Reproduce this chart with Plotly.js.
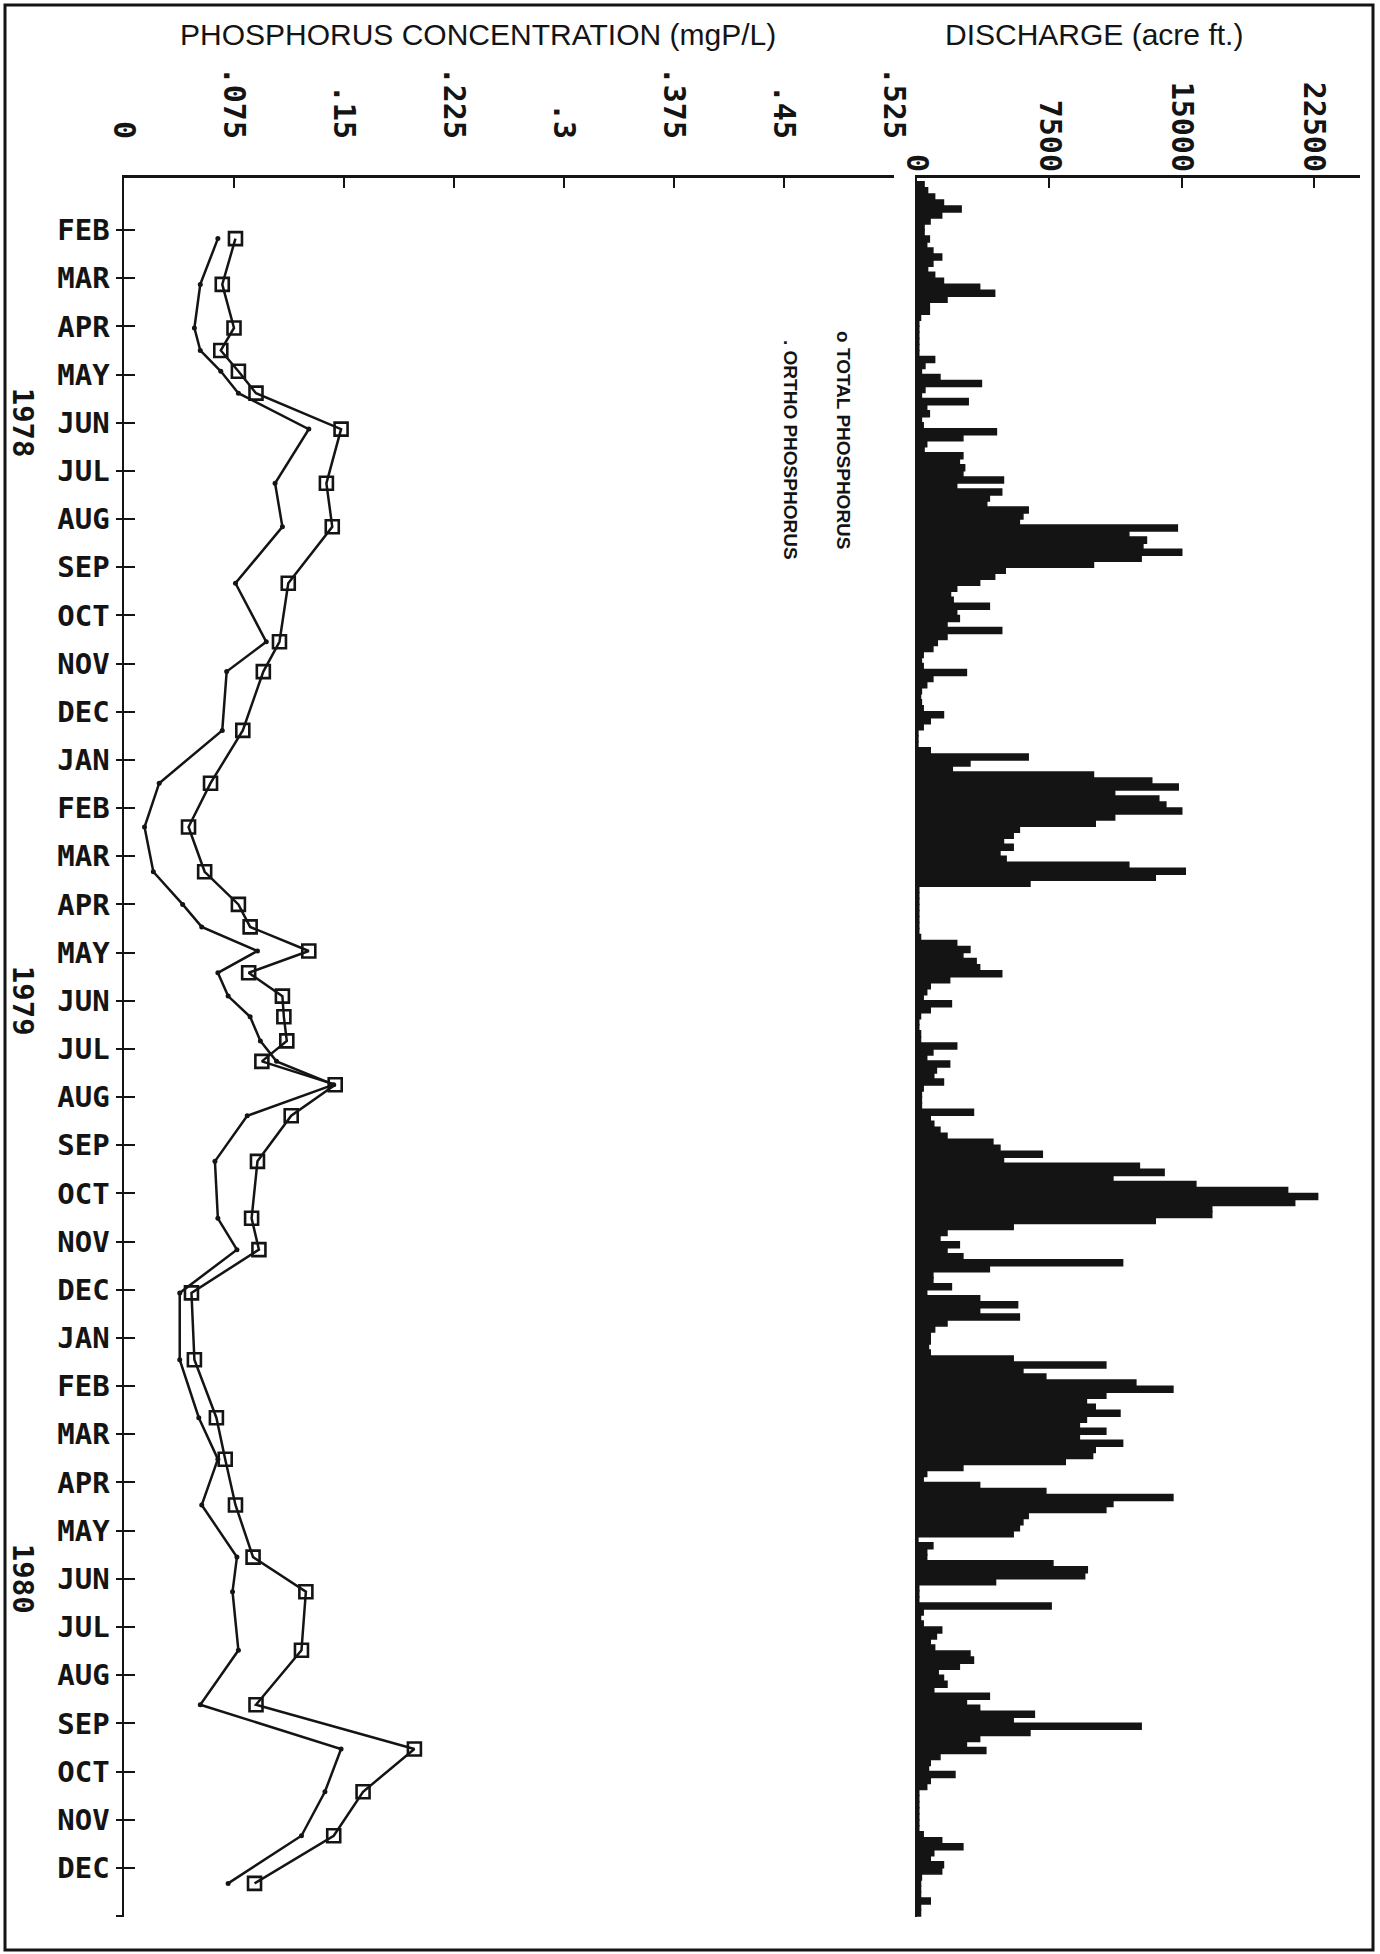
<!DOCTYPE html>
<html>
<head>
<meta charset="utf-8">
<script src="https://cdn.plot.ly/plotly-3.0.1.min.js"></script>
<style>
html,body{margin:0;padding:0;background:#ffffff;}
#chart{width:1380px;height:1954px;}
</style>
</head>
<body>
<div id="chart"></div>
<script>
// ---------- DATA ----------
// Water-quality sampling dates
const sampleDates = [
  "1978-02-06","1978-03-05","1978-04-02","1978-04-16","1978-04-29","1978-05-13","1978-06-05",
  "1978-07-09","1978-08-06","1978-09-11","1978-10-18","1978-11-06","1978-12-13",
  "1979-01-16","1979-02-12","1979-03-11","1979-04-01","1979-04-15","1979-04-30","1979-05-14",
  "1979-05-29","1979-06-11","1979-06-26","1979-07-09","1979-07-24","1979-08-13","1979-09-11",
  "1979-10-17","1979-11-06","1979-12-03",
  "1980-01-15","1980-02-20","1980-03-17","1980-04-15","1980-05-18","1980-06-09","1980-07-16",
  "1980-08-20","1980-09-17","1980-10-14","1980-11-11","1980-12-11"
];
// Total phosphorus (mgP/L)
const totalPhosphorus = [
  0.076,0.067,0.075,0.066,0.078,0.090,0.148,0.138,0.142,0.112,0.106,0.095,0.081,
  0.059,0.044,0.055,0.078,0.086,0.126,0.085,0.108,0.109,0.111,0.094,0.144,0.114,0.091,0.087,0.092,0.046,
  0.048,0.063,0.069,0.076,0.088,0.124,0.121,0.090,0.198,0.163,0.143,0.089
];
// Ortho phosphorus (mgP/L)
const orthoPhosphorus = [
  0.064,0.052,0.048,0.052,0.066,0.078,0.126,0.103,0.108,0.076,0.097,0.070,0.067,
  0.024,0.014,0.020,0.040,0.053,0.091,0.064,0.071,0.086,0.093,0.104,0.143,0.084,0.062,0.064,0.077,0.038,
  0.038,0.051,0.064,0.053,0.077,0.074,0.078,0.052,0.148,0.137,0.121,0.071
];
// Discharge (acre ft.), eight periods per month, January through December of each year
const discharge1978 = [
  400,600,1000,1500,2500,1400,740,400, 400,700,550,900,1400,900,600,1000,
  1500,3550,4400,1700,700,700,200,100, 100,100,100,100,100,1000,450,250,
  1300,3650,450,250,2900,550,700,250, 350,4500,2600,550,400,2600,2400,2700,
  2600,4900,2250,4800,4100,3950,6300,6000, 5800,14750,12000,13000,12800,15000,12700,10000,
  5000,4400,3550,2250,1900,2050,4100,2250, 2400,1700,4800,1700,1150,900,350,250,
  350,2800,900,550,250,200,250,350, 1500,750,350,50,50,50,750,6300
];
const discharge1979 = [
  3000,2000,10000,13300,14800,11200,13700,14100, 15000,11200,10100,5800,5450,4900,5450,4700,
  5050,12000,15200,13500,6400,100,100,100, 100,100,100,100,100,200,2250,3000,
  2600,3350,3550,4800,1850,750,550,350, 1950,750,200,100,100,200,200,2250,
  900,550,1850,1100,950,1500,350,250, 250,250,3200,750,950,1300,1700,4300,
  4700,7100,4900,12600,14000,11100,15800,21000, 22700,21400,16700,16700,13500,5450,1700,1300,
  2400,1700,2600,11650,4100,900,900,1950, 550,3550,5700,3550,5800,1700,1000,750
];
const discharge1980 = [
  750,650,750,5450,10700,6000,7300,12400, 14500,10700,9600,10100,11500,9600,9200,10700,
  9200,11650,10100,9950,8400,2600,550,350, 3550,7300,14500,11100,10700,6300,6000,5800,
  5450,50,900,550,550,7700,9650,9500, 4450,100,100,100,7600,350,200,350,
  1400,1100,750,1000,3000,3200,2400,1200, 1500,1700,950,4100,2800,3550,6650,5450,
  12700,6400,3550,2800,3900,1300,750,650, 2150,750,550,100,100,100,100,100,
  100,100,350,1400,2600,950,750,1500, 1400,250,200,200,200,750,200,200
];
// Month tick labels, FEB 1978 ... DEC 1980, plus the closing unlabeled tick
const monthTickLabels = [
  "FEB","MAR","APR","MAY","JUN","JUL","AUG","SEP","OCT","NOV","DEC",
  "JAN","FEB","MAR","APR","MAY","JUN","JUL","AUG","SEP","OCT","NOV","DEC",
  "JAN","FEB","MAR","APR","MAY","JUN","JUL","AUG","SEP","OCT","NOV","DEC",
  ""
];
const yearLabels = ["1978","1979","1980"];
const yearLabelMonth = ["1978-06-01","1979-06-01","1980-06-01"];
const concTickVals = [0,0.075,0.15,0.225,0.3,0.375,0.45,0.525];
const concTickText = ["0",".075",".15",".225",".3",".375",".45",".525"];
const dischargeTickVals = [0,7500,15000,22500];
const dischargeTickText = ["0","7500","15000","22500"];

// ---------- HELPERS ----------
// month position: FEB 1978 = 0, one unit per month
function monthPos(s){
  const p = s.split("-").map(Number);
  const days = new Date(p[0], p[1], 0).getDate();
  return (p[0]-1978)*12 + (p[1]-1) - 1 + (p[2]-1)/days;
}
const PERIODS_PER_MONTH = 8;
const dischargeAll = discharge1978.concat(discharge1979, discharge1980);
const dischargePos = dischargeAll.map((_, i) => -1 + (i + 0.5)/PERIODS_PER_MONTH);
const samplePos = sampleDates.map(monthPos);
const monthTickVals = monthTickLabels.map((_, i) => i);

const W = 1380, H = 1954;
const fx = v => v/W;
const fy = v => 1 - v/H;
const INK = "#141414";
const YRANGE = [35.02, -1.09];
const YDOMAIN = [fy(1917), fy(177.5)];
const MONO = "DejaVu Sans Mono";
const SANS = "Liberation Sans, Arial, sans-serif";

const traces = [
  {
    type:"scatter", mode:"lines+markers", name:"TOTAL PHOSPHORUS",
    x: totalPhosphorus, y: samplePos, xaxis:"x", yaxis:"y",
    line:{color:INK, width:2.5},
    marker:{symbol:"square-open", size:13, color:INK, line:{width:2.6, color:INK}},
    cliponaxis:false, hoverinfo:"skip"
  },
  {
    type:"scatter", mode:"lines+markers", name:"ORTHO PHOSPHORUS",
    x: orthoPhosphorus, y: samplePos, xaxis:"x", yaxis:"y",
    line:{color:INK, width:2.5},
    marker:{symbol:"circle", size:5, color:INK},
    cliponaxis:false, hoverinfo:"skip"
  },
  {
    type:"bar", orientation:"h", name:"DISCHARGE",
    x: dischargeAll, y: dischargePos, width: 1/PERIODS_PER_MONTH,
    xaxis:"x2", yaxis:"y2",
    marker:{color:INK, line:{color:INK, width:1.5}},
    hoverinfo:"skip"
  },
  {
    type:"scatter", mode:"markers", x:[0], y:[0], xaxis:"x", yaxis:"y3",
    marker:{opacity:0}, hoverinfo:"skip", showlegend:false
  }
];

const tickFontTop = {family:MONO, size:30, color:INK, weight:"bold"};

const layout = {
  width:W, height:H,
  margin:{l:0, r:0, t:0, b:0},
  paper_bgcolor:"#ffffff", plot_bgcolor:"rgba(0,0,0,0)",
  showlegend:false, bargap:0,
  font:{family:MONO, color:INK},
  xaxis:{
    domain:[fx(124), fx(894)], range:[0, 0.525], side:"top", anchor:"y",
    showline:true, linewidth:3, linecolor:INK,
    ticks:"inside", ticklen:10, tickwidth:2, tickcolor:INK,
    tickmode:"array", tickvals:concTickVals, ticktext:concTickText,
    tickangle:90, tickfont:tickFontTop, ticklabelstandoff:25,
    showgrid:false, zeroline:false, fixedrange:true
  },
  yaxis:{
    domain:YDOMAIN, range:YRANGE, anchor:"x",
    showline:true, linewidth:2.5, linecolor:INK,
    ticks:"outside", ticklen:6, tickwidth:2, tickcolor:INK,
    tickmode:"array", tickvals:monthTickVals, ticktext:monthTickLabels,
    tickfont:{family:MONO, size:29, color:INK, weight:"bold"},
    showgrid:false, zeroline:false, fixedrange:true
  },
  yaxis3:{
    overlaying:"y", anchor:"x", range:YRANGE,
    ticks:"inside", ticklen:11, tickwidth:2, tickcolor:INK,
    tickmode:"array", tickvals:monthTickVals,
    showticklabels:false, showline:false, showgrid:false, zeroline:false, fixedrange:true
  },
  xaxis2:{
    domain:[fx(917), fx(1360)], range:[0, 25100], side:"top", anchor:"y2",
    showline:true, linewidth:3, linecolor:INK,
    ticks:"inside", ticklen:10, tickwidth:2, tickcolor:INK,
    tickmode:"array", tickvals:dischargeTickVals, ticktext:dischargeTickText,
    tickangle:90, tickfont:tickFontTop, ticklabelstandoff:-8,
    showgrid:false, zeroline:false, fixedrange:true
  },
  yaxis2:{
    domain:YDOMAIN, range:YRANGE, anchor:"x2",
    showline:true, linewidth:2, linecolor:INK,
    ticks:"", showticklabels:false, showgrid:false, zeroline:false, fixedrange:true
  },
  annotations:[
    {text:"PHOSPHORUS CONCENTRATION (mgP/L)", xref:"paper", yref:"paper", x:fx(478), y:fy(35),
     showarrow:false, xanchor:"center", yanchor:"middle", font:{family:SANS, size:30, color:INK}},
    {text:"DISCHARGE (acre ft.)", xref:"paper", yref:"paper", x:fx(1094), y:fy(35),
     showarrow:false, xanchor:"center", yanchor:"middle", font:{family:SANS, size:30, color:INK}},
    {text:"o TOTAL PHOSPHORUS", xref:"paper", yref:"paper", x:fx(843), y:fy(440), textangle:90,
     showarrow:false, xanchor:"center", yanchor:"middle", font:{family:SANS, size:19, color:INK, weight:"bold"}},
    {text:". ORTHO PHOSPHORUS", xref:"paper", yref:"paper", x:fx(790), y:fy(450), textangle:90,
     showarrow:false, xanchor:"center", yanchor:"middle", font:{family:SANS, size:19, color:INK, weight:"bold"}}
  ].concat(yearLabels.map((t, i) => ({
    text:t, xref:"paper", yref:"y", x:fx(23), y:monthPos(yearLabelMonth[i]), textangle:90,
    showarrow:false, xanchor:"center", yanchor:"middle",
    font:{family:MONO, size:29, color:INK, weight:"bold"}
  }))),
  shapes:[
    {type:"rect", xref:"paper", yref:"paper", x0:fx(5), x1:fx(1373), y0:fy(1950), y1:fy(5),
     line:{color:INK, width:3}, fillcolor:"rgba(0,0,0,0)", layer:"above"}
  ]
};

Plotly.newPlot("chart", traces, layout, {staticPlot:true, displayModeBar:false});
</script>
</body>
</html>
